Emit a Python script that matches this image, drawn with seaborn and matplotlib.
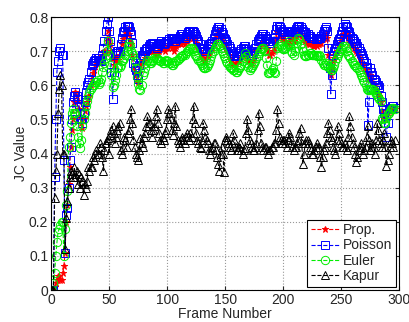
import numpy as np
import pandas as pd
import matplotlib
matplotlib.use("Agg")
import matplotlib.pyplot as plt
import seaborn as sns

# one value per frame, frames 1..296
frames = np.arange(1, 297)

prop = [
    0.00, 0.00, 0.01, 0.02, 0.03, 0.04, 0.04, 0.03, 0.03, 0.05,
    0.07, 0.11, 0.20, 0.25, 0.31, 0.36, 0.42, 0.47, 0.50, 0.55,
    0.58, 0.57, 0.555, 0.53, 0.51, 0.49, 0.475, 0.50, 0.525, 0.54,
    0.55, 0.57, 0.565, 0.60, 0.62, 0.635, 0.645, 0.66, 0.665, 0.67,
    0.675, 0.665, 0.68, 0.685, 0.69, 0.70, 0.695, 0.73, 0.76, 0.74,
    0.72, 0.70, 0.68, 0.66, 0.67, 0.685, 0.68, 0.675, 0.69, 0.70,
    0.72, 0.735, 0.745, 0.755, 0.76, 0.765, 0.75, 0.735, 0.72, 0.69,
    0.65, 0.64, 0.63, 0.615, 0.61, 0.635, 0.66, 0.665, 0.67, 0.675,
    0.68, 0.685, 0.69, 0.70, 0.70, 0.705, 0.71, 0.70, 0.70, 0.69,
    0.695, 0.70, 0.70, 0.71, 0.71, 0.715, 0.705, 0.70, 0.71, 0.715,
    0.71, 0.72, 0.72, 0.71, 0.715, 0.70, 0.71, 0.715, 0.72, 0.725,
    0.725, 0.72, 0.73, 0.725, 0.72, 0.73, 0.73, 0.735, 0.74, 0.745,
    0.745, 0.74, 0.74, 0.735, 0.725, 0.715, 0.71, 0.70, 0.69, 0.685,
    0.68, 0.67, 0.675, 0.685, 0.69, 0.695, 0.70, 0.71, 0.71, 0.72,
    0.735, 0.745, 0.75, 0.76, 0.755, 0.745, 0.74, 0.73, 0.72, 0.715,
    0.71, 0.70, 0.69, 0.68, 0.675, 0.665, 0.665, 0.66, 0.665, 0.67,
    0.67, 0.675, 0.68, 0.685, 0.69, 0.70, 0.695, 0.685, 0.68, 0.67,
    0.67, 0.665, 0.665, 0.675, 0.68, 0.69, 0.70, 0.705, 0.715, 0.72,
    0.725, 0.73, 0.73, 0.725, 0.715, 0.705, 0.70, 0.69, 0.69, 0.695,
    0.70, 0.71, 0.725, 0.74, 0.755, 0.76, 0.75, 0.745, 0.74, 0.735,
    0.735, 0.73, 0.725, 0.72, 0.73, 0.735, 0.74, 0.735, 0.73, 0.74,
    0.745, 0.75, 0.755, 0.76, 0.75, 0.745, 0.74, 0.735, 0.73, 0.725,
    0.725, 0.72, 0.72, 0.725, 0.72, 0.715, 0.715, 0.72, 0.715, 0.72,
    0.72, 0.725, 0.725, 0.735, 0.74, 0.745, 0.75, 0.74, 0.69, 0.66,
    0.63, 0.65, 0.67, 0.68, 0.69, 0.70, 0.71, 0.72, 0.725, 0.735,
    0.74, 0.75, 0.76, 0.755, 0.75, 0.74, 0.735, 0.725, 0.72, 0.715,
    0.71, 0.705, 0.70, 0.695, 0.69, 0.68, 0.675, 0.665, 0.66, 0.65,
    0.645, 0.635, 0.62, 0.625, 0.63, 0.62, 0.61, 0.605, 0.60, 0.59,
    0.585, 0.575, 0.57, 0.55, 0.525, 0.51, 0.50, 0.505, 0.515, 0.52,
    0.525, 0.53, 0.53, 0.535, 0.535, 0.53,
]

poisson = [
    0.00, 0.00, 0.33, 0.50, 0.64, 0.67, 0.70, 0.71, 0.69, 0.69,
    0.38, 0.11, 0.22, 0.24, 0.30, 0.38, 0.42, 0.50, 0.55, 0.57,
    0.58, 0.57, 0.56, 0.54, 0.52, 0.50, 0.49, 0.52, 0.55, 0.58,
    0.60, 0.61, 0.62, 0.64, 0.66, 0.665, 0.67, 0.675, 0.68, 0.68,
    0.68, 0.675, 0.67, 0.69, 0.71, 0.73, 0.76, 0.78, 0.80, 0.76,
    0.73, 0.64, 0.56, 0.64, 0.69, 0.695, 0.70, 0.70, 0.70, 0.72,
    0.74, 0.755, 0.76, 0.77, 0.775, 0.775, 0.77, 0.76, 0.75, 0.725,
    0.665, 0.655, 0.645, 0.63, 0.62, 0.66, 0.68, 0.69, 0.69, 0.70,
    0.70, 0.705, 0.71, 0.715, 0.72, 0.72, 0.725, 0.72, 0.72, 0.715,
    0.71, 0.715, 0.72, 0.725, 0.73, 0.725, 0.72, 0.725, 0.73, 0.73,
    0.73, 0.735, 0.74, 0.74, 0.74, 0.735, 0.73, 0.735, 0.74, 0.74,
    0.745, 0.75, 0.75, 0.745, 0.74, 0.745, 0.75, 0.755, 0.76, 0.76,
    0.76, 0.76, 0.755, 0.75, 0.745, 0.735, 0.73, 0.72, 0.71, 0.71,
    0.71, 0.705, 0.70, 0.705, 0.715, 0.72, 0.72, 0.725, 0.73, 0.74,
    0.75, 0.76, 0.765, 0.77, 0.77, 0.765, 0.755, 0.75, 0.74, 0.735,
    0.73, 0.72, 0.715, 0.71, 0.70, 0.695, 0.69, 0.685, 0.685, 0.685,
    0.69, 0.695, 0.70, 0.705, 0.71, 0.715, 0.715, 0.705, 0.70, 0.695,
    0.695, 0.69, 0.69, 0.695, 0.70, 0.71, 0.72, 0.73, 0.735, 0.74,
    0.745, 0.75, 0.75, 0.745, 0.74, 0.735, 0.73, 0.725, 0.725, 0.73,
    0.73, 0.74, 0.75, 0.765, 0.775, 0.775, 0.77, 0.765, 0.76, 0.76,
    0.755, 0.75, 0.75, 0.755, 0.755, 0.76, 0.76, 0.755, 0.755, 0.76,
    0.765, 0.77, 0.775, 0.775, 0.77, 0.765, 0.76, 0.755, 0.755, 0.75,
    0.75, 0.745, 0.745, 0.74, 0.74, 0.74, 0.74, 0.735, 0.735, 0.74,
    0.74, 0.74, 0.745, 0.75, 0.76, 0.765, 0.77, 0.76, 0.71, 0.65,
    0.575, 0.63, 0.69, 0.70, 0.71, 0.72, 0.73, 0.735, 0.74, 0.75,
    0.76, 0.77, 0.78, 0.775, 0.77, 0.76, 0.755, 0.745, 0.74, 0.735,
    0.73, 0.725, 0.725, 0.715, 0.71, 0.70, 0.695, 0.69, 0.68, 0.67,
    0.665, 0.655, 0.485, 0.55, 0.65, 0.64, 0.63, 0.62, 0.615, 0.61,
    0.60, 0.60, 0.595, 0.57, 0.55, 0.53, 0.52, 0.49, 0.45, 0.49,
    0.53, 0.53, 0.535, 0.54, 0.54, 0.535,
]

euler = [
    0.00, 0.02, 0.05, 0.10, 0.14, 0.17, 0.18, 0.19, 0.20, 0.20,
    0.10, 0.18, 0.25, 0.29, 0.42, 0.45, 0.49, 0.52, 0.53, 0.52,
    0.52, 0.48, 0.45, 0.43, 0.415, 0.44, 0.48, 0.50, 0.52, 0.54,
    0.555, 0.57, 0.58, 0.59, 0.595, 0.60, 0.60, 0.61, 0.61, 0.615,
    0.605, 0.61, 0.62, 0.64, 0.655, 0.665, 0.68, 0.70, 0.73, 0.69,
    0.66, 0.63, 0.595, 0.60, 0.615, 0.63, 0.65, 0.655, 0.655, 0.66,
    0.67, 0.675, 0.68, 0.69, 0.70, 0.715, 0.725, 0.715, 0.70, 0.695,
    0.69, 0.67, 0.65, 0.625, 0.605, 0.59, 0.585, 0.60, 0.63, 0.64,
    0.65, 0.665, 0.675, 0.67, 0.665, 0.665, 0.67, 0.675, 0.68, 0.68,
    0.68, 0.675, 0.675, 0.67, 0.67, 0.665, 0.665, 0.67, 0.675, 0.67,
    0.67, 0.665, 0.665, 0.66, 0.66, 0.665, 0.67, 0.67, 0.675, 0.68,
    0.68, 0.685, 0.685, 0.69, 0.69, 0.695, 0.70, 0.70, 0.705, 0.71,
    0.71, 0.705, 0.70, 0.69, 0.685, 0.68, 0.675, 0.67, 0.665, 0.66,
    0.655, 0.65, 0.65, 0.655, 0.66, 0.665, 0.675, 0.685, 0.695, 0.70,
    0.71, 0.715, 0.72, 0.72, 0.715, 0.71, 0.70, 0.695, 0.685, 0.68,
    0.67, 0.665, 0.66, 0.655, 0.65, 0.65, 0.645, 0.645, 0.64, 0.64,
    0.645, 0.65, 0.655, 0.66, 0.67, 0.68, 0.695, 0.685, 0.665, 0.655,
    0.645, 0.65, 0.655, 0.66, 0.665, 0.67, 0.68, 0.685, 0.695, 0.70,
    0.705, 0.71, 0.71, 0.70, 0.68, 0.66, 0.635, 0.635, 0.64, 0.645,
    0.65, 0.64, 0.635, 0.67, 0.71, 0.715, 0.72, 0.715, 0.71, 0.705,
    0.705, 0.71, 0.715, 0.72, 0.73, 0.72, 0.70, 0.695, 0.69, 0.70,
    0.71, 0.725, 0.74, 0.735, 0.72, 0.71, 0.70, 0.69, 0.685, 0.685,
    0.69, 0.69, 0.695, 0.695, 0.69, 0.69, 0.69, 0.69, 0.685, 0.685,
    0.69, 0.685, 0.675, 0.665, 0.66, 0.66, 0.665, 0.66, 0.655, 0.65,
    0.645, 0.645, 0.65, 0.66, 0.67, 0.68, 0.69, 0.695, 0.70, 0.705,
    0.71, 0.715, 0.715, 0.71, 0.70, 0.69, 0.685, 0.68, 0.67, 0.665,
    0.66, 0.66, 0.655, 0.65, 0.645, 0.64, 0.63, 0.625, 0.615, 0.61,
    0.60, 0.59, 0.585, 0.585, 0.59, 0.59, 0.59, 0.585, 0.58, 0.575,
    0.57, 0.565, 0.56, 0.555, 0.505, 0.50, 0.49, 0.49, 0.505, 0.515,
    0.52, 0.525, 0.53, 0.535, 0.535, 0.53,
]

kapur = [
    0.00, 0.00, 0.27, 0.35, 0.40, 0.52, 0.59, 0.63, 0.60, 0.40,
    0.40, 0.12, 0.21, 0.26, 0.30, 0.33, 0.35, 0.34, 0.33, 0.36,
    0.33, 0.35, 0.31, 0.34, 0.30, 0.33, 0.32, 0.28, 0.31, 0.30,
    0.32, 0.36, 0.35, 0.36, 0.36, 0.39, 0.38, 0.40, 0.41, 0.40,
    0.40, 0.43, 0.42, 0.39, 0.35, 0.41, 0.43, 0.44, 0.445, 0.40,
    0.455, 0.47, 0.48, 0.46, 0.43, 0.45, 0.47, 0.48, 0.49, 0.41,
    0.40, 0.42, 0.45, 0.44, 0.42, 0.46, 0.47, 0.50, 0.53, 0.49,
    0.44, 0.42, 0.40, 0.39, 0.38, 0.41, 0.445, 0.43, 0.42, 0.45,
    0.46, 0.48, 0.51, 0.49, 0.49, 0.47, 0.45, 0.47, 0.48, 0.51,
    0.53, 0.49, 0.46, 0.44, 0.43, 0.45, 0.44, 0.46, 0.47, 0.50,
    0.53, 0.52, 0.50, 0.47, 0.455, 0.49, 0.54, 0.48, 0.44, 0.43,
    0.42, 0.44, 0.45, 0.44, 0.43, 0.45, 0.46, 0.45, 0.44, 0.46,
    0.45, 0.50, 0.54, 0.49, 0.46, 0.44, 0.43, 0.42, 0.415, 0.44,
    0.49, 0.47, 0.45, 0.44, 0.43, 0.41, 0.40, 0.41, 0.42, 0.43,
    0.43, 0.41, 0.39, 0.37, 0.35, 0.40, 0.42, 0.40, 0.345, 0.44,
    0.45, 0.44, 0.43, 0.42, 0.41, 0.43, 0.46, 0.44, 0.42, 0.41,
    0.41, 0.42, 0.43, 0.41, 0.40, 0.41, 0.415, 0.46, 0.50, 0.47,
    0.44, 0.43, 0.42, 0.41, 0.41, 0.42, 0.43, 0.47, 0.52, 0.48,
    0.43, 0.42, 0.41, 0.42, 0.42, 0.41, 0.40, 0.41, 0.41, 0.42,
    0.42, 0.43, 0.43, 0.47, 0.53, 0.49, 0.45, 0.44, 0.43, 0.44,
    0.44, 0.43, 0.42, 0.44, 0.46, 0.45, 0.43, 0.42, 0.41, 0.42,
    0.42, 0.43, 0.44, 0.46, 0.475, 0.43, 0.37, 0.40, 0.43, 0.44,
    0.44, 0.43, 0.42, 0.41, 0.40, 0.40, 0.41, 0.42, 0.43, 0.42,
    0.42, 0.39, 0.36, 0.39, 0.41, 0.42, 0.43, 0.46, 0.49, 0.47,
    0.45, 0.44, 0.42, 0.41, 0.40, 0.44, 0.48, 0.46, 0.44, 0.43,
    0.42, 0.42, 0.43, 0.42, 0.41, 0.45, 0.51, 0.48, 0.45, 0.43,
    0.42, 0.40, 0.375, 0.39, 0.41, 0.42, 0.43, 0.42, 0.40, 0.41,
    0.42, 0.45, 0.48, 0.44, 0.41, 0.42, 0.43, 0.42, 0.40, 0.44,
    0.49, 0.47, 0.44, 0.43, 0.42, 0.44, 0.46, 0.42, 0.365, 0.38,
    0.40, 0.42, 0.44, 0.43, 0.42, 0.44,
]

series = ["Prop.", "Poisson", "Euler", "Kapur"]
values = [prop, poisson, euler, kapur]
colors = ["#ff0000", "#0000ff", "#00ee00", "#000000"]
markers = ["*", "s", "o", "^"]
msizes = [5, 5.5, 6, 6]

sns.set_style("white")
plt.rcParams["font.family"] = ["Liberation Sans", "DejaVu Sans"]

fig = plt.figure(figsize=(4.09, 3.22), dpi=100)
ax = fig.add_axes([0.125, 0.099, 0.851, 0.848])

for name, vals, c, m, ms in zip(series, values, colors, markers, msizes):
    df = pd.DataFrame({"frame": frames, "jc": vals})
    face = c if m == "*" else "none"
    sns.lineplot(data=df, x="frame", y="jc", ax=ax, label=name,
                 color=c, linestyle="--", linewidth=0.8,
                 marker=m, markersize=ms,
                 markerfacecolor=face, markeredgecolor=c,
                 markeredgewidth=0.7, estimator=None, sort=False)

ax.set_xlim(0, 300)
ax.set_ylim(0, 0.8)
ax.set_xticks(np.arange(0, 301, 50))
ax.set_yticks(np.arange(0, 0.81, 0.1))
ax.set_yticklabels(["0"] + [f"{v:.1f}" for v in np.arange(0.1, 0.81, 0.1)])
ax.grid(True, color="#999999", linestyle=":", linewidth=0.8)
ax.tick_params(direction="in", labelsize=10, length=3,
               top=True, right=True, bottom=True, left=True, pad=2)
for sp in ax.spines.values():
    sp.set_color("black")
    sp.set_linewidth(0.8)

ax.set_xlabel("Frame Number", fontsize=10, labelpad=0)
ax.set_ylabel("JC Value", fontsize=10, labelpad=1)

leg = ax.legend(loc="lower right", fontsize=10, frameon=True, fancybox=False,
                framealpha=1, edgecolor="black", handlelength=2.0,
                borderpad=0.25, labelspacing=0.1, handletextpad=0.3,
                borderaxespad=0.25)
leg.get_frame().set_linewidth(0.8)

fig.savefig("out.png", dpi=100)
